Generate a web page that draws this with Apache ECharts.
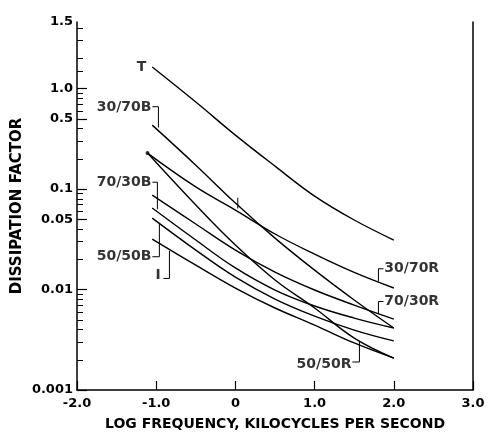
<!DOCTYPE html>
<html><head><meta charset="utf-8">
<script src="https://cdn.jsdelivr.net/npm/echarts@6/dist/echarts.min.js"></script>
<style>html,body{margin:0;padding:0;background:#fff}#c{width:489px;height:437px}</style>
</head><body><div id="c"></div>
<script>
// ---- data ----
const xTickLabels = ['-2.0','-1.0','0','1.0','2.0','3.0'];
const yTickValues = [0.001,0.01,0.05,0.1,0.5,1.0,4.6];
const yTickLabels = ['0.001','0.01','0.05','0.1','0.5','1.0','1.5'];
const yMinorTicks = [0.002,0.003,0.004,0.005,0.006,0.007,0.008,0.009,
  0.02,0.03,0.04,0.06,0.07,0.08,0.09,0.2,0.3,0.4,0.6,0.7,0.8,0.9,1.5,2,3,4];

const curveT      = [[-1.05,1.64],[-0.5,0.735],[0,0.344],[0.5,0.169],[1.0,0.0851],[1.5,0.0492],[2.0,0.0311]];
const curve3070B  = [[-1.05,0.433],[-0.5,0.173],[0,0.0726],[0.5,0.0325],[1.0,0.0156],[1.5,0.00787],[2.0,0.00414]];
const curve3070R  = [[-1.11,0.228],[-0.5,0.105],[0,0.0618],[0.5,0.0357],[1.0,0.0225],[1.5,0.0148],[2.0,0.01035]];
const curve5050R  = [[-1.11,0.228],[-0.5,0.0693],[0,0.0277],[0.5,0.01245],[1.0,0.00655],[1.5,0.00329],[2.0,0.00208]];
const curve7030R  = [[-1.05,0.0871],[-0.5,0.0449],[0,0.0247],[0.5,0.0149],[1.0,0.00989],[1.5,0.0070],[2.0,0.00508]];
const curve7030B  = [[-1.05,0.0648],[-0.5,0.0311],[0,0.0164],[0.5,0.00989],[1.0,0.00686],[1.5,0.0052],[2.0,0.00414]];
const curve5050B  = [[-1.05,0.0514],[-0.5,0.0247],[0,0.0133],[0.5,0.00804],[1.0,0.00544],[1.5,0.00395],[2.0,0.00308]];
const curveI      = [[-1.05,0.0318],[-0.5,0.0175],[0,0.01035],[0.5,0.00655],[1.0,0.00443],[1.5,0.00294],[2.0,0.00208]];

const curveNames = ['T','30/70B','30/70R','50/50R','70/30R','70/30B','50/50B','I'];
const curves = [curveT,curve3070B,curve3070R,curve5050R,curve7030R,curve7030B,curve5050B,curveI];

// ---- annotations (data units) ----
const labelsLeft = [
  {name:'T', value:[-1.124,1.61]},
  {name:'30/70B', value:[-1.06,0.65]},
  {name:'70/30B', value:[-1.06,0.117]},
  {name:'50/50B', value:[-1.06,0.0212]},
  {name:'50/50R', value:[1.465,0.0018]}
];
const labelsRight = [
  {name:'I', value:[-1.01,0.0138]},
  {name:'30/70R', value:[1.88,0.0161]},
  {name:'70/30R', value:[1.88,0.0076]}
];
const brackets = [
  [[-1.048,0.66],[-0.972,0.66],[-0.972,0.41]],
  [[-1.048,0.117],[-0.985,0.117],[-0.985,0.063]],
  [[-1.048,0.0212],[-0.96,0.0212],[-0.96,0.046]],
  [[-0.909,0.0129],[-0.833,0.0129],[-0.833,0.0243]],
  [[1.87,0.0161],[1.806,0.0161],[1.806,0.012]],
  [[1.87,0.0076],[1.806,0.0076],[1.806,0.0058]],
  [[1.477,0.0019],[1.566,0.0019],[1.566,0.003]],
  [[0.03,0.082],[0.03,0.064]]
];

const FONT = 'DejaVu Sans';
const txt = {color:'#000', fontFamily:FONT, fontWeight:'bold', fontSize:13};

const series = curves.map((c,i)=>({
  type:'line', name:curveNames[i], data:c, smooth:0.4, symbol:'none',
  lineStyle:{color:'#000', width:1.4}, z:3, silent:true
}));
brackets.forEach(b=>series.push({type:'line', data:b, symbol:'none', lineStyle:{color:'#000',width:1}, silent:true}));
series.push({type:'scatter', data:labelsLeft, symbolSize:0, silent:true,
  label:{show:true, position:'left', distance:0, formatter:p=>p.name, ...txt, fontSize:14}});
series.push({type:'scatter', data:labelsRight, symbolSize:0, silent:true,
  label:{show:true, position:'right', distance:0, formatter:p=>p.name, ...txt, fontSize:14}});
series.push({type:'scatter', data:[[-1.11,0.228]], symbolSize:4, silent:true, itemStyle:{color:'#000'}});

const yBase = {type:'log', logBase:10, min:0.001, max:4.6, splitLine:{show:false}, minorTick:{show:false}};
const chart = echarts.init(document.getElementById('c'));
chart.setOption({
  animation:false,
  backgroundColor:'#fff',
  grid:{left:77, right:16, top:22, bottom:47, containLabel:false, outerBoundsMode:'none'},
  xAxis:{type:'value', min:-2, max:3, interval:1,
    axisLine:{onZero:false, lineStyle:{color:'#000', width:1.5}},
    axisTick:{inside:true, length:9, lineStyle:{color:'#000', width:1.2}},
    axisLabel:{...txt, margin:7, formatter:(v)=>xTickLabels[Math.round(v+2)]},
    splitLine:{show:false},
    name:'LOG FREQUENCY, KILOCYCLES PER SECOND', nameLocation:'middle', nameGap:27,
    nameMoveOverlap:false,
    nameTextStyle:{...txt, fontSize:14}
  },
  yAxis:[
    {...yBase, position:'left',
      axisLine:{show:true, onZero:false, lineStyle:{color:'#000', width:1.5}},
      axisTick:{inside:true, length:10, customValues:yTickValues.slice(0,6), lineStyle:{color:'#000', width:1.2}},
      axisLabel:{...txt, margin:4, customValues:yTickValues,
        formatter:(v)=>{let k=0,b=1e9;yTickValues.forEach((t,i)=>{const d=Math.abs(Math.log10(t)-Math.log10(v));if(d<b){b=d;k=i;}});return yTickLabels[k];}},
      name:'DISSIPATION FACTOR', nameLocation:'middle', nameGap:52, nameRotate:90,
      nameMoveOverlap:false,
      nameTextStyle:{...txt, fontSize:15}
    },
    {...yBase, position:'left',
      axisLine:{show:false, onZero:false},
      axisTick:{inside:true, length:6, customValues:yMinorTicks, lineStyle:{color:'#000', width:1}},
      axisLabel:{show:false}
    },
    {...yBase, position:'right',
      axisLine:{show:true, onZero:false, lineStyle:{color:'#000', width:1.5}},
      axisTick:{show:false}, axisLabel:{show:false}
    }
  ],
  series:series
});
</script></body></html>
